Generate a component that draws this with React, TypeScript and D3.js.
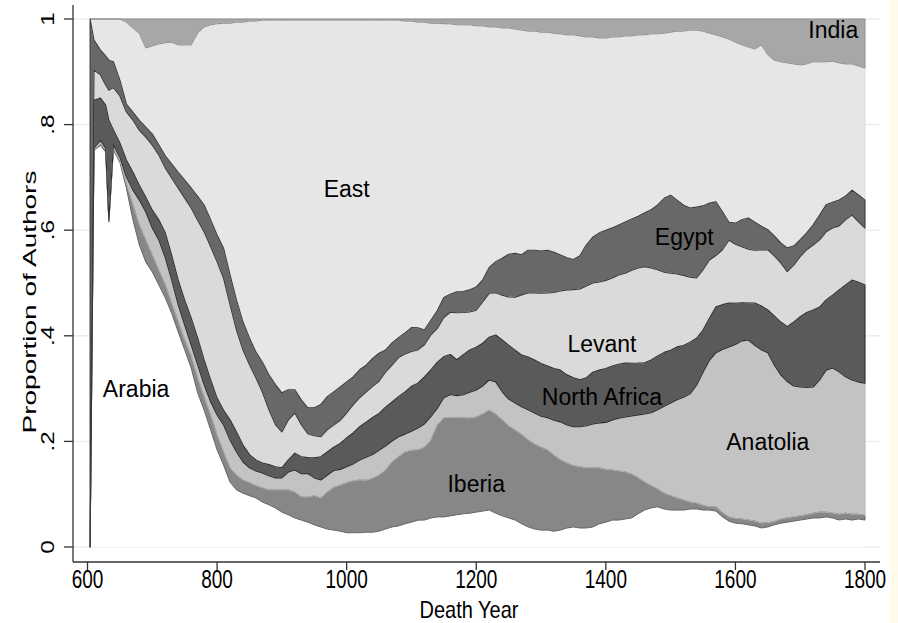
import React from 'react';
import * as d3 from 'd3';

// Death year samples (x categories)
const years = [
  604, 610, 620, 628, 633, 640,
  650, 660, 670, 680, 690, 700, 710, 720, 730, 740,
  750, 760, 770, 780, 790, 800, 810, 820, 830, 840,
  850, 860, 870, 880, 890, 900, 910, 920, 930, 940,
  950, 960, 970, 980, 990, 1000, 1010, 1020, 1030, 1040,
  1050, 1060, 1070, 1080, 1090, 1100, 1110, 1120, 1130, 1140,
  1150, 1160, 1170, 1180, 1190, 1200, 1210, 1220, 1230, 1240,
  1250, 1260, 1270, 1280, 1290, 1300, 1310, 1320, 1330, 1340,
  1350, 1360, 1370, 1380, 1390, 1400, 1410, 1420, 1430, 1440,
  1450, 1460, 1470, 1480, 1490, 1500, 1510, 1520, 1530, 1540,
  1550, 1560, 1570, 1580, 1590, 1600, 1610, 1620, 1630, 1640,
  1650, 1660, 1670, 1680, 1690, 1700, 1710, 1720, 1730, 1740,
  1750, 1760, 1770, 1780, 1790, 1800,
];

// share of authors per region
const arabia = [
  0, .752, .761, .748, .616, .752,
  .729, .680, .619, .572, .540, .521, .496, .472, .443, .407,
  .373, .339, .292, .259, .222, .184, .155, .123, .108, .102,
  .097, .093, .085, .080, .074, .066, .061, .055, .051, .047,
  .042, .038, .034, .032, .030, .027, .027, .027, .028, .028,
  .030, .034, .038, .040, .044, .047, .051, .051, .055, .057,
  .057, .059, .061, .063, .064, .066, .068, .070, .064, .059,
  .055, .051, .044, .038, .034, .032, .032, .030, .032, .036,
  .038, .036, .036, .038, .044, .047, .051, .051, .053, .055,
  .063, .070, .074, .076, .072, .070, .070, .070, .072, .072,
  .070, .070, .068, .057, .049, .045, .044, .042, .040, .036,
  .038, .042, .045, .047, .049, .051, .053, .055, .055, .057,
  .055, .051, .053, .051, .053, .051,
];

const iberia = [
  0, 0, .004, .004, .002, .002,
  .004, .008, .028, .038, .042, .032, .028, .025, .019, .019,
  .019, .023, .028, .025, .028, .028, .025, .027, .028, .025,
  .025, .023, .027, .028, .034, .042, .047, .049, .044, .047,
  .055, .055, .070, .081, .087, .095, .098, .100, .098, .102,
  .106, .112, .123, .131, .136, .136, .133, .138, .148, .174,
  .188, .186, .184, .182, .180, .180, .184, .189, .188, .182,
  .174, .170, .169, .165, .161, .157, .152, .144, .133, .123,
  .116, .116, .114, .112, .106, .100, .095, .093, .089, .083,
  .068, .053, .042, .034, .030, .027, .023, .019, .013, .011,
  .009, .006, .008, .008, .008, .009, .009, .009, .009, .009,
  .008, .006, .008, .008, .008, .008, .008, .009, .011, .009,
  .009, .011, .011, .011, .009, .009,
];

const anatolia = [
  0, .004, .006, .004, .002, .008,
  .006, .013, .028, .047, .053, .051, .057, .051, .044, .032,
  .028, .021, .025, .023, .025, .038, .051, .053, .044, .034,
  .028, .028, .028, .027, .023, .023, .034, .042, .044, .045,
  .034, .034, .032, .032, .030, .030, .032, .038, .044, .045,
  .047, .045, .040, .038, .034, .036, .042, .044, .044, .032,
  .038, .044, .042, .044, .049, .051, .053, .057, .061, .053,
  .051, .051, .053, .057, .059, .059, .061, .066, .072, .072,
  .074, .076, .080, .083, .085, .089, .095, .100, .104, .110,
  .119, .129, .138, .150, .165, .176, .186, .195, .205, .223,
  .252, .278, .292, .309, .322, .330, .337, .341, .333, .328,
  .322, .297, .273, .258, .248, .244, .241, .239, .250, .269,
  .275, .269, .258, .254, .250, .250,
];

const northAfrica = [
  0, .091, .080, .081, .189, .028,
  .027, .032, .034, .028, .028, .034, .038, .047, .047, .047,
  .047, .051, .051, .047, .042, .032, .028, .038, .038, .032,
  .025, .021, .019, .021, .021, .019, .023, .032, .032, .030,
  .038, .044, .044, .044, .049, .055, .059, .063, .066, .070,
  .070, .074, .074, .076, .080, .085, .085, .089, .089, .087,
  .078, .076, .068, .076, .080, .081, .081, .081, .089, .098,
  .102, .100, .098, .100, .100, .100, .098, .098, .098, .095,
  .093, .089, .091, .098, .100, .102, .102, .102, .102, .100,
  .098, .097, .100, .102, .102, .100, .100, .098, .098, .089,
  .080, .080, .087, .085, .083, .078, .072, .070, .080, .083,
  .081, .093, .100, .104, .121, .133, .142, .146, .138, .133,
  .138, .155, .174, .189, .189, .186,
];

const levant = [
  0, .057, .044, .038, .057, .080,
  .089, .091, .098, .104, .114, .123, .123, .123, .146, .174,
  .193, .208, .223, .242, .252, .258, .250, .218, .193, .180,
  .170, .155, .134, .104, .080, .068, .076, .076, .061, .045,
  .042, .038, .042, .042, .044, .047, .053, .055, .057, .059,
  .061, .066, .070, .074, .072, .066, .063, .061, .066, .064,
  .074, .080, .089, .080, .072, .070, .078, .083, .080, .085,
  .091, .100, .114, .121, .127, .133, .138, .144, .150, .161,
  .167, .172, .174, .169, .167, .167, .167, .169, .170, .176,
  .180, .182, .174, .163, .152, .146, .138, .133, .123, .114,
  .114, .110, .097, .104, .119, .112, .106, .102, .100, .106,
  .114, .114, .112, .104, .108, .114, .119, .123, .127, .129,
  .127, .121, .123, .123, .114, .108,
];

const egypt = [
  1, .057, .047, .055, .057, .049,
  .030, .015, .015, .019, .019, .021, .019, .023, .027, .030,
  .034, .038, .045, .051, .051, .051, .057, .057, .057, .053,
  .051, .049, .057, .066, .076, .074, .057, .044, .047, .049,
  .053, .061, .063, .063, .063, .059, .053, .053, .051, .053,
  .053, .042, .042, .038, .040, .045, .042, .028, .028, .034,
  .038, .034, .040, .040, .042, .044, .042, .049, .059, .070,
  .081, .083, .076, .081, .081, .080, .081, .076, .068, .061,
  .057, .063, .078, .087, .093, .095, .095, .095, .097, .097,
  .098, .102, .110, .123, .140, .148, .140, .133, .131, .134,
  .121, .108, .102, .072, .034, .040, .051, .059, .053, .045,
  .038, .038, .038, .045, .036, .032, .032, .038, .047, .051,
  .049, .049, .045, .047, .051, .053,
];

const east = [
  0, .040, .059, .070, .078, .081,
  .116, .155, .159, .165, .150, .167, .191, .214, .231, .241,
  .256, .271, .309, .337, .369, .400, .426, .477, .527, .568,
  .600, .627, .648, .672, .691, .706, .701, .701, .720, .733,
  .735, .729, .714, .705, .695, .686, .676, .663, .653, .640,
  .631, .625, .612, .602, .591, .580, .580, .583, .563, .544,
  .519, .513, .506, .506, .502, .494, .481, .455, .445, .436,
  .428, .424, .426, .415, .415, .415, .413, .415, .419, .422,
  .426, .417, .394, .379, .369, .364, .362, .356, .352, .347,
  .343, .337, .333, .324, .313, .309, .320, .330, .337, .335,
  .331, .322, .316, .331, .347, .343, .331, .324, .328, .343,
  .331, .333, .343, .350, .345, .331, .320, .309, .290, .271,
  .267, .259, .250, .239, .244, .250,
];

const india = [
  0, 0, 0, 0, 0, 0,
  0, .006, .017, .027, .055, .051, .047, .045, .044, .049,
  .049, .049, .027, .015, .011, .009, .008, .008, .006, .006,
  .004, .004, .002, .002, .002, .002, .002, .002, .002, .002,
  .002, .002, .002, .002, .002, .002, .002, .002, .002, .002,
  .002, .002, .002, .002, .004, .004, .006, .006, .008, .008,
  .009, .009, .011, .011, .011, .013, .013, .015, .015, .017,
  .017, .019, .021, .023, .023, .025, .025, .027, .028, .030,
  .030, .032, .034, .034, .036, .036, .034, .034, .032, .032,
  .030, .030, .028, .028, .027, .025, .023, .023, .021, .021,
  .023, .027, .030, .034, .038, .044, .049, .053, .057, .049,
  .068, .078, .081, .083, .085, .087, .085, .081, .081, .081,
  .080, .083, .085, .085, .089, .093,
];

const regionKeys = ['arabia', 'iberia', 'anatolia', 'northAfrica', 'levant', 'egypt', 'east', 'india'];
const regionValues = { arabia, iberia, anatolia, northAfrica, levant, egypt, east, india };

const fills = {
  arabia: '#ffffff', iberia: '#878787', anatolia: '#c3c3c3', northAfrica: '#5a5a5a',
  levant: '#dadada', egypt: '#686868', east: '#e6e6e6', india: '#a7a7a7',
};
const strokes = {
  arabia: 'none', iberia: '#666666', anatolia: '#b4b4b4', northAfrica: '#2e2e2e',
  levant: '#d0d0d0', egypt: '#3a3a3a', east: '#dddddd', india: '#8e8e8e',
};

const xTicks = [600, 800, 1000, 1200, 1400, 1600, 1800];
const yTicks = [0, 0.2, 0.4, 0.6, 0.8, 1];
const yTickLabels = ['0', '.2', '.4', '.6', '.8', '1'];

// label anchors in data units (year, proportion at baseline)
const regionLabels = [
  { text: 'India', year: 1751, value: 0.964 },
  { text: 'East', year: 1000, value: 0.663 },
  { text: 'Egypt', year: 1521, value: 0.572 },
  { text: 'Levant', year: 1394, value: 0.369 },
  { text: 'North Africa', year: 1394, value: 0.269 },
  { text: 'Arabia', year: 675, value: 0.284 },
  { text: 'Iberia', year: 1200, value: 0.104 },
  { text: 'Anatolia', year: 1650, value: 0.184 },
];

const W = 898;
const H = 623;
const font = '"Liberation Sans", Arial, sans-serif';

export default function App() {
  const x = d3.scaleLinear().domain([600, 1800]).range([87.5, 865]);
  const y = d3.scaleLinear().domain([0, 1]).range([547, 19]);

  const rows = years.map((yr, i) => {
    const r: any = { year: yr };
    regionKeys.forEach(k => { r[k] = regionValues[k][i]; });
    return r;
  });
  const series = d3.stack<any>().keys(regionKeys).offset(d3.stackOffsetExpand)(rows);

  const area = d3.area<any>()
    .x(d => x(d.data.year))
    .y0(d => y(d[0]))
    .y1(d => y(d[1]));

  const axisY = 562;
  const axisX = 73;
  const plotRight = 880;

  const lightOrder = ['iberia', 'anatolia', 'levant', 'east', 'india'];
  const darkOrder = ['northAfrica', 'egypt'];

  return (
    <div style={{ position: 'absolute', left: 0, top: 0 }}>
      <svg width={W} height={H} style={{ display: 'block', background: '#ffffff' }}>
        <rect x={890} y={0} width={8} height={H} fill="#fffaea" />

        {/* grid */}
        {yTicks.map(t => (
          <line key={'g' + t} x1={axisX} x2={plotRight} y1={y(t)} y2={y(t)}
            stroke="#e6eff1" strokeWidth={1.5} />
        ))}

        {/* areas */}
        {series.map(s => (
          <path key={s.key} d={area(s) || ''} fill={fills[s.key]} stroke="none" />
        ))}
        {series.filter(s => lightOrder.includes(s.key)).map(s => (
          <path key={'o' + s.key} d={area(s) || ''} fill="none" stroke={strokes[s.key]}
            strokeWidth={1} strokeLinejoin="round" />
        ))}
        {series.filter(s => darkOrder.includes(s.key)).map(s => (
          <path key={'o' + s.key} d={area(s) || ''} fill="none" stroke={strokes[s.key]}
            strokeWidth={1.1} strokeLinejoin="round" />
        ))}

        {/* region labels */}
        {regionLabels.map(l => (
          <text key={l.text} x={x(l.year)} y={y(l.value)} textAnchor="middle"
            fontFamily={font} fontSize={23} fill="#000">{l.text}</text>
        ))}

        {/* axes */}
        <line x1={axisX} x2={axisX} y1={5} y2={axisY} stroke="#333" strokeWidth={1.3} />
        <line x1={axisX} x2={plotRight} y1={axisY} y2={axisY} stroke="#333" strokeWidth={1.3} />
        {yTicks.map((t, i) => (
          <g key={'yt' + t}>
            <line x1={64} x2={axisX} y1={y(t)} y2={y(t)} stroke="#333" strokeWidth={1.3} />
            <text transform={`translate(54,${y(t)}) rotate(-90) scale(1.35,1)`}
              textAnchor="middle" fontFamily={font} fontSize={18} fill="#000">{yTickLabels[i]}</text>
          </g>
        ))}
        {xTicks.map(t => (
          <g key={'xt' + t}>
            <line x1={x(t)} x2={x(t)} y1={axisY} y2={570} stroke="#333" strokeWidth={1.3} />
            <text transform={`translate(${x(t)},588) scale(1,1.35)`} textAnchor="middle"
              fontFamily={font} fontSize={19} fill="#000">{t}</text>
          </g>
        ))}
        <text transform="translate(469,618) scale(1,1.2)" textAnchor="middle"
          fontFamily={font} fontSize={20} fill="#000">Death Year</text>
        <text transform="translate(36,302) rotate(-90) scale(1.6,1)" textAnchor="middle"
          fontFamily={font} fontSize={17.5} fill="#000">Proportion of Authors</text>
      </svg>
    </div>
  );
}
